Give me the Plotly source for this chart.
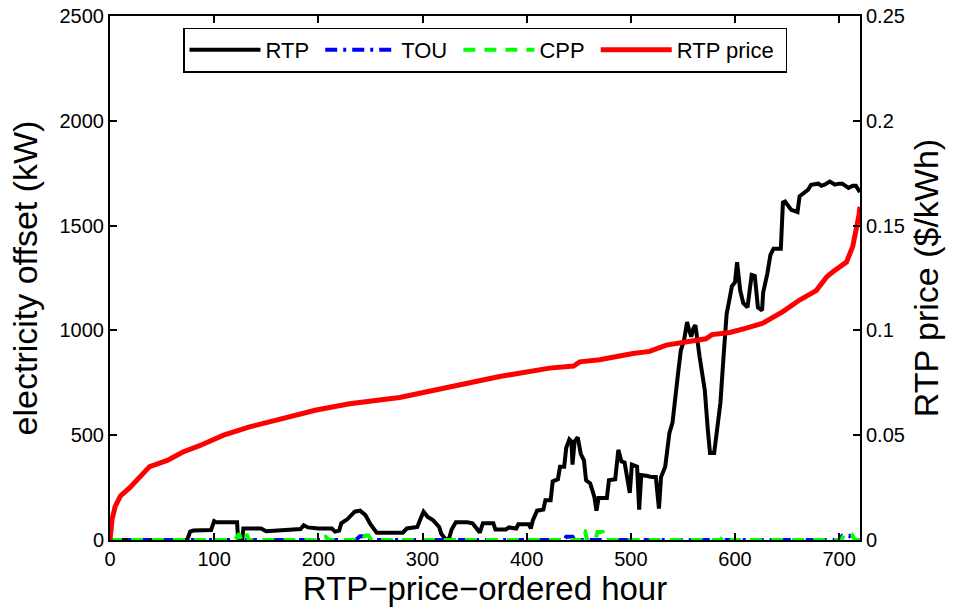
import plotly.graph_objects as go

# Electricity offset (kW) per program, hours ordered by RTP price
rtp_hours = [0, 74, 77, 80, 97, 100, 102, 122, 123, 127, 128, 145, 150, 165, 167, 183, 186, 190,
             200, 213, 216, 220, 222, 228, 235, 240, 245, 250, 256, 281, 285, 290, 295, 298, 301,
             305, 310, 316, 318, 322, 325, 328, 332, 343, 348, 352, 355, 358, 368, 370, 380, 383,
             390, 392, 402, 404, 406, 410, 416, 418, 423, 425, 430, 432, 436, 438, 441, 443, 444,
             446, 449, 452, 455, 457, 461, 465, 467, 469, 477, 479, 485, 488, 491, 494, 496, 499,
             501, 506, 508, 510, 516, 520, 524, 527, 529, 533, 537, 540, 545, 548, 551, 554, 556,
             558, 560, 562, 566, 571, 574, 576, 580, 582, 586, 589, 592, 594, 597, 600, 602, 605,
             608, 612, 614, 616, 619, 622, 626, 627, 631, 634, 637, 644, 646, 648, 654, 660, 662,
             667, 670, 673, 680, 683, 686, 691, 696, 700, 703, 709, 713, 716, 720]
rtp_kw = [0, 0, 40, 45, 48, 90, 85, 85, 0, 0, 55, 55, 42, 45, 50, 52, 70, 60,
          55, 55, 40, 45, 80, 100, 135, 140, 120, 75, 35, 35, 55, 60, 62, 100, 135,
          110, 95, 62, 30, 5, 0, 50, 85, 85, 80, 55, 35, 80, 80, 50, 50, 60,
          55, 75, 75, 55, 95, 140, 145, 190, 190, 280, 290, 350, 350, 440, 480, 470, 360,
          470, 490, 410, 380, 285, 270, 205, 140, 200, 200, 285, 290, 430, 375, 370, 310, 225,
          360, 350, 145, 310, 305, 300, 300, 150, 300, 350, 510, 560, 780, 905, 950, 1040, 1000,
          970, 1010, 1025, 875, 715, 520, 415, 415, 510, 655, 875, 1080, 1130, 1210, 1230, 1325, 1190,
          1130, 1110, 1180, 1265, 1260, 1110, 1095, 1180, 1270, 1360, 1390, 1390, 1610, 1615, 1575, 1565, 1640,
          1660, 1670, 1695, 1700, 1690, 1695, 1710, 1695, 1700, 1700, 1680, 1690, 1690, 1660]

tou_hours = [0, 236, 240, 246, 250, 436, 438, 444, 446, 700, 703, 710, 713, 720]
tou_kw = [0, 0, 18, 18, 0, 0, 15, 15, 0, 0, 20, 20, 0, 0]

cpp_hours = [0, 120, 124, 126, 128, 131, 133, 200, 203, 207, 210, 242, 245, 248, 251, 452, 454,
             456, 458, 466, 468, 473, 475, 586, 589, 592, 595, 702, 705, 712, 715, 720]
cpp_kw = [0, 0, 30, 0, 0, 28, 0, 0, 15, 15, 0, 0, 22, 22, 0, 0, 42,
          42, 0, 0, 38, 38, 0, 0, 18, 18, 0, 0, 28, 28, 0, 0]

# Real-time price ($/kWh), sorted ascending
price_hours = [0, 1, 2, 5, 10, 19, 26, 38, 55, 70, 86, 109, 134, 166, 198, 230, 278, 326, 374,
               422, 445, 451, 470, 502, 518, 534, 566, 572, 578, 595, 610, 627, 646, 662, 678,
               688, 694, 707, 713, 717, 719, 720]
price_usd = [0, 0.006, 0.010, 0.016, 0.021, 0.025, 0.029, 0.035, 0.038, 0.042, 0.045, 0.050,
             0.054, 0.058, 0.062, 0.065, 0.068, 0.073, 0.078, 0.082, 0.083, 0.085, 0.086, 0.089,
             0.090, 0.093, 0.0955, 0.096, 0.098, 0.099, 0.101, 0.1035, 0.109, 0.1145, 0.119,
             0.1255, 0.128, 0.1326, 0.140, 0.149, 0.155, 0.159]

x_ticks = [0, 100, 200, 300, 400, 500, 600, 700]
kw_ticks = [0, 500, 1000, 1500, 2000, 2500]
price_ticks = [0, 0.05, 0.1, 0.15, 0.2, 0.25]
price_tick_text = ["0", "0.05", "0.1", "0.15", "0.2", "0.25"]

FONT = "Liberation Sans, Arial, Helvetica, sans-serif"
PAD = "\u00a0"  # a little breathing room after each legend label

fig = go.Figure()
fig.add_trace(go.Scatter(x=rtp_hours, y=rtp_kw, name="RTP" + PAD, mode="lines",
                         line=dict(color="black", width=4)))
fig.add_trace(go.Scatter(x=tou_hours, y=tou_kw, name="TOU" + PAD, mode="lines",
                         line=dict(color="#0000ff", width=4, dash="12px,6px,3px,6px")))
fig.add_trace(go.Scatter(x=cpp_hours, y=cpp_kw, name="CPP" + PAD, mode="lines",
                         line=dict(color="#00ff00", width=4, dash="12px,9px")))
fig.add_trace(go.Scatter(x=price_hours, y=price_usd, name="RTP price" + PAD, mode="lines",
                         line=dict(color="#ff0000", width=5), yaxis="y2"))

axis_common = dict(showline=True, linecolor="black", linewidth=2, ticks="inside",
                   ticklen=7, tickwidth=1.5, tickcolor="black", showgrid=False,
                   zeroline=False, automargin=False,
                   tickfont=dict(family=FONT, size=20, color="black"))

fig.update_layout(
    width=953, height=608,
    margin=dict(l=110, r=93, t=16, b=68),
    paper_bgcolor="white", plot_bgcolor="white",
    font=dict(family=FONT, color="black"),
    xaxis=dict(range=[0, 720], tickvals=x_ticks, mirror="ticks",
               title=dict(text="RTP\u2212price\u2212ordered hour",
                          font=dict(family=FONT, size=33), standoff=6),
               **axis_common),
    yaxis=dict(range=[0, 2500], tickvals=kw_ticks,
               title=dict(text="electricity offset (kW)", font=dict(family=FONT, size=34),
                          standoff=12),
               **axis_common),
    yaxis2=dict(range=[0, 0.25], tickvals=price_ticks, ticktext=price_tick_text,
                overlaying="y", side="right", anchor="x",
                title=dict(text="RTP price ($/kWh)", font=dict(family=FONT, size=34),
                           standoff=10),
                **axis_common),
    legend=dict(orientation="h", x=0.5, xanchor="center", y=0.978, yanchor="top",
                bgcolor="white", bordercolor="black", borderwidth=1.5,
                font=dict(family=FONT, size=22), itemwidth=71,
                traceorder="normal"),
    showlegend=True,
)

fig.write_html("out.html")
